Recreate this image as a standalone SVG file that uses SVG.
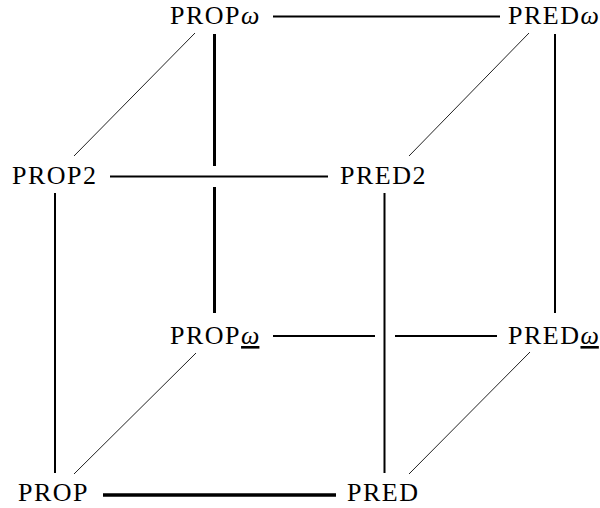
<svg xmlns="http://www.w3.org/2000/svg" width="600" height="508" viewBox="0 0 600 508">
<style>
text{font-family:"Liberation Serif","DejaVu Serif",serif;font-size:26px;letter-spacing:1.5px;fill:#000}
.w{font-style:italic;letter-spacing:0}
.u{text-decoration:underline}
line{stroke:#000;stroke-linecap:butt}
.n{stroke-width:2}
.t{stroke-width:3}
.d{stroke-width:1;stroke:#222}
</style>
<rect width="600" height="508" fill="#fff"/>
<g id="connectors">
<line class="n" x1="273" y1="16.5" x2="500" y2="16.5"/>
<line class="n" x1="110" y1="176.5" x2="328" y2="176.5"/>
<line class="n" x1="273" y1="336" x2="375" y2="336"/>
<line class="n" x1="395" y1="336" x2="497" y2="336"/>
<line class="t" x1="103" y1="495" x2="336" y2="495" style="stroke-width:3.5"/>
<line class="t" x1="214.5" y1="34" x2="214.5" y2="166"/>
<line class="t" x1="214.5" y1="187" x2="214.5" y2="313"/>
<line class="n" x1="555" y1="34" x2="555" y2="313"/>
<line class="n" x1="55" y1="193" x2="55" y2="473"/>
<line class="n" x1="384.5" y1="193" x2="384.5" y2="473"/>
<line class="d" x1="195" y1="33" x2="74" y2="156"/>
<line class="d" x1="529" y1="33" x2="409" y2="156"/>
<line class="d" x1="196" y1="353" x2="74" y2="474"/>
<line class="d" x1="530" y1="352" x2="409" y2="474"/>
</g>
<g id="PROPw"><text x="170" y="24">PROP<tspan class="w">ω</tspan></text></g>
<g id="PREDw"><text x="508" y="24">PRED<tspan class="w">ω</tspan></text></g>
<g id="PROP2"><text x="12" y="184">PROP2</text></g>
<g id="PRED2"><text x="340" y="184">PRED2</text></g>
<g id="PROPwu"><text x="170" y="344">PROP<tspan class="w u">ω</tspan></text></g>
<g id="PREDwu"><text x="508" y="344">PRED<tspan class="w u">ω</tspan></text></g>
<g id="PROP"><text x="18" y="501">PROP</text></g>
<g id="PRED"><text x="347" y="501">PRED</text></g>
</svg>
